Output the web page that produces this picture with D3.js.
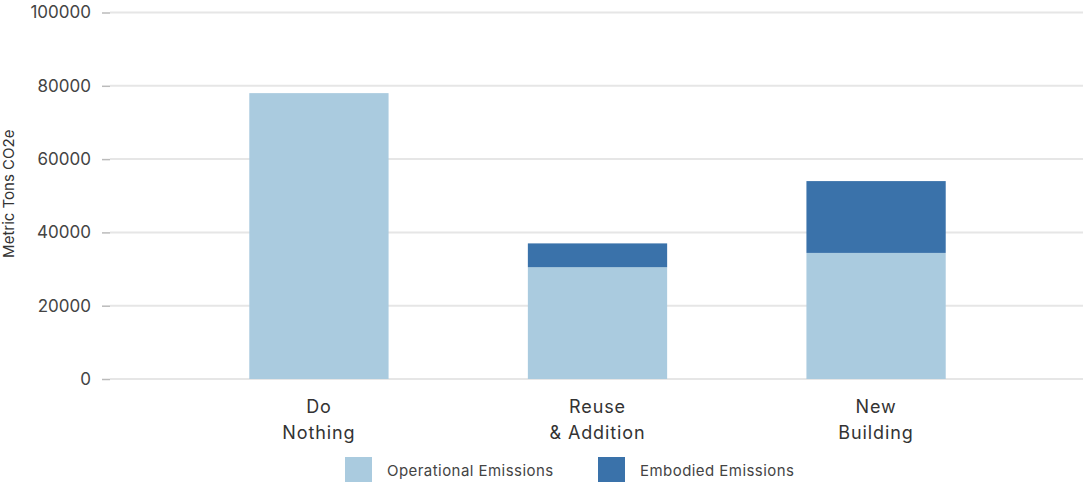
<!DOCTYPE html>
<html>
<head>
<meta charset="utf-8">
<script src="https://cdn.jsdelivr.net/npm/d3@7"></script>
<style>
  html, body { margin: 0; padding: 0; background: #ffffff; }
  svg { display: block; font-family: Inter, "Liberation Sans", Arial, sans-serif; }
</style>
</head>
<body>
<svg id="chart" width="1086" height="482"></svg>
<script>
// Scenario categories (multi-line labels)
const categories = ["Do Nothing", "Reuse & Addition", "New Building"];
const categoryLines = [["Do", "Nothing"], ["Reuse", "& Addition"], ["New", "Building"]];

// Emissions by scenario, metric tons CO2e
const operational = [78000, 30500, 34400];
const embodied = [0, 6500, 19600];

const seriesNames = ["Operational Emissions", "Embodied Emissions"];
const seriesColors = ["#aacbdf", "#3a72aa"];
const yTicks = [0, 20000, 40000, 60000, 80000, 100000];

const svg = d3.select("#chart");
const width = 1086, height = 482;
const margin = { top: 12.5, right: 1, bottom: 103, left: 110 };
const gridRight = 1083;

const x = d3.scaleBand()
  .domain(categories)
  .range([margin.left, width - margin.right])
  .padding(0.5);

const y = d3.scaleLinear()
  .domain([0, 100000])
  .range([height - margin.bottom, margin.top]);

// Gridlines
svg.append("g")
  .selectAll("line")
  .data(yTicks)
  .join("line")
  .attr("x1", margin.left)
  .attr("x2", gridRight)
  .attr("y1", d => y(d))
  .attr("y2", d => y(d))
  .attr("stroke", "#e6e6e6")
  .attr("stroke-width", 2);

// Y axis with short tick marks and no domain line
const yAxis = svg.append("g")
  .attr("transform", `translate(${margin.left},0)`)
  .call(d3.axisLeft(y).tickValues(yTicks).tickFormat(d3.format("d")).tickSize(8).tickPadding(11));
yAxis.select(".domain").remove();
yAxis.selectAll(".tick line").attr("stroke", "#bbbbbb").attr("stroke-width", 1.5);
yAxis.selectAll(".tick text")
  .attr("fill", "#444444")
  .style("font-size", "17px")
  .style("font-family", "Inter, 'Liberation Sans', Arial, sans-serif");

// Y axis title
svg.append("text")
  .attr("transform", `translate(14,${(margin.top + height - margin.bottom) / 2 - 2}) rotate(-90)`)
  .attr("text-anchor", "middle")
  .attr("fill", "#333333")
  .style("font-size", "15px")
  .text("Metric Tons CO2e");

// Stacked bars
const rows = categories.map((c, i) => ({ cat: c, operational: operational[i], embodied: embodied[i] }));
const stack = d3.stack().keys(["operational", "embodied"]);
const layers = stack(rows);

svg.append("g")
  .selectAll("g")
  .data(layers)
  .join("g")
  .attr("fill", (d, i) => seriesColors[i])
  .selectAll("rect")
  .data(d => d.filter(s => s[1] - s[0] > 0))
  .join("rect")
  .attr("x", d => x(d.data.cat))
  .attr("width", x.bandwidth())
  .attr("y", d => y(d[1]))
  .attr("height", d => y(d[0]) - y(d[1]));

// Category labels
const xLab = svg.append("g")
  .selectAll("text")
  .data(categories)
  .join("text")
  .attr("x", d => x(d) + x.bandwidth() / 2)
  .attr("y", height - margin.bottom + 34)
  .attr("text-anchor", "middle")
  .attr("fill", "#333333")
  .style("font-size", "18px")
  .style("letter-spacing", "0.9px");
xLab.selectAll("tspan")
  .data((d, i) => categoryLines[i])
  .join("tspan")
  .attr("x", function () { return d3.select(this.parentNode).attr("x"); })
  .attr("dy", (d, i) => i === 0 ? 0 : 26)
  .text(d => d);

// Legend
const legendX = [345, 598];
const legend = svg.append("g")
  .selectAll("g")
  .data(seriesNames)
  .join("g")
  .attr("transform", (d, i) => `translate(${legendX[i]},457)`);
legend.append("rect")
  .attr("width", 27)
  .attr("height", 25)
  .attr("fill", (d, i) => seriesColors[i]);
legend.append("text")
  .attr("x", 42)
  .attr("y", 19)
  .attr("fill", "#444444")
  .style("font-size", "15px")
  .style("letter-spacing", "0.45px")
  .text(d => d);
</script>
</body>
</html>
